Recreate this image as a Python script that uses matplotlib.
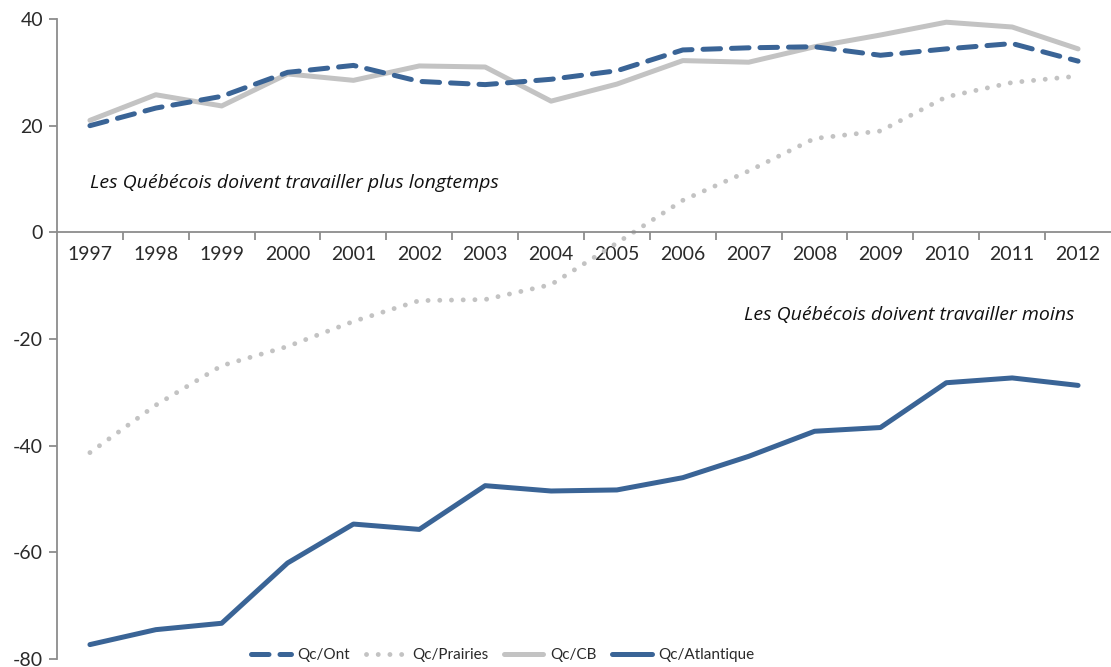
import numpy as np
import matplotlib
matplotlib.use("Agg")
import matplotlib.pyplot as plt

###
### Data
###
years = ["1997", "1998", "1999", "2000", "2001", "2002", "2003", "2004",
         "2005", "2006", "2007", "2008", "2009", "2010", "2011", "2012"]

qc_ont = [20.0, 23.3, 25.5, 30.0, 31.3, 28.3, 27.7, 28.7,
          30.3, 34.2, 34.6, 34.8, 33.2, 34.4, 35.4, 32.1]
qc_prairies = [-41.3, -32.4, -25.0, -21.4, -16.7, -12.8, -12.6, -9.8,
               -2.0, 6.0, 11.5, 17.6, 19.0, 25.4, 28.1, 29.3]
qc_cb = [21.0, 25.8, 23.7, 29.7, 28.5, 31.2, 31.0, 24.6,
         27.8, 32.2, 31.9, 34.8, 37.0, 39.4, 38.5, 34.4]
qc_atlantique = [-77.3, -74.5, -73.3, -62.0, -54.7, -55.7, -47.5, -48.5,
                 -48.3, -46.0, -42.0, -37.3, -36.6, -28.2, -27.3, -28.7]

###
### Styles
###
blue = "#3A6496"
grey = "#C3C3C3"
axcol = "#8C8C8C"
txtcol = "#2A2A2A"
plt.rcParams['font.family'] = ['Lato', 'DejaVu Sans']

fig = plt.figure(figsize=(11.11, 6.67), dpi=100)
ax = fig.add_axes([0.0513, 0.012, 0.9487, 0.9595])

x = np.arange(len(years))

ax.plot(x, qc_ont, color=blue, lw=3.6, dashes=(3.5, 2.2),
        dash_capstyle='round', solid_capstyle='round', label="Qc/Ont", zorder=4)
ax.plot(x, qc_prairies, color=grey, lw=3.5, dashes=(0.01, 2.4),
        dash_capstyle='round', label="Qc/Prairies", zorder=2)
ax.plot(x, qc_cb, color=grey, lw=3.6, solid_capstyle='round',
        label="Qc/CB", zorder=3)
ax.plot(x, qc_atlantique, color=blue, lw=3.6, solid_capstyle='round',
        label="Qc/Atlantique", zorder=4)

###
### Axes
###
ax.set_xlim(-0.5, len(years) - 0.5)
ax.set_ylim(-80, 40)
ax.set_yticks(np.arange(-80, 41, 20))
ax.set_yticklabels([str(v) for v in range(-80, 41, 20)],
                   fontsize=14, color=txtcol)

ax.spines['top'].set_visible(False)
ax.spines['right'].set_visible(False)
ax.spines['left'].set_color(axcol)
ax.spines['left'].set_linewidth(1.3)
ax.spines['bottom'].set_position(('data', 0))
ax.spines['bottom'].set_color(axcol)
ax.spines['bottom'].set_linewidth(1.3)

ax.tick_params(axis='y', length=6, width=1.3, color=axcol, pad=4)
ax.set_xticks(x)
ax.set_xticklabels(years, fontsize=14, color=txtcol)
ax.tick_params(axis='x', which='major', length=0, pad=10)
ax.set_xticks(x[:-1] + 0.5, minor=True)
ax.tick_params(axis='x', which='minor', length=6, width=1.3, color=axcol,
               direction='out')

###
### Annotations
###
ax.text(0.0, 9.2, "Les Québécois doivent travailler plus longtemps",
        fontsize=14, style='italic', family=['Open Sans', 'DejaVu Sans'],
        ha='left', va='center', color='#111111')
ax.text(14.95, -15.5, "Les Québécois doivent travailler moins",
        fontsize=14, style='italic', family=['Open Sans', 'DejaVu Sans'],
        ha='right', va='center', color='#111111')

leg = ax.legend(loc='lower center', bbox_to_anchor=(0.423, -0.022), ncol=4,
                frameon=False, handlelength=2.6, columnspacing=1.0,
                handletextpad=0.45, fontsize=11, borderaxespad=0.3)
for t in leg.get_texts():
    t.set_color(txtcol)

fig.savefig("out.png", dpi=100)
